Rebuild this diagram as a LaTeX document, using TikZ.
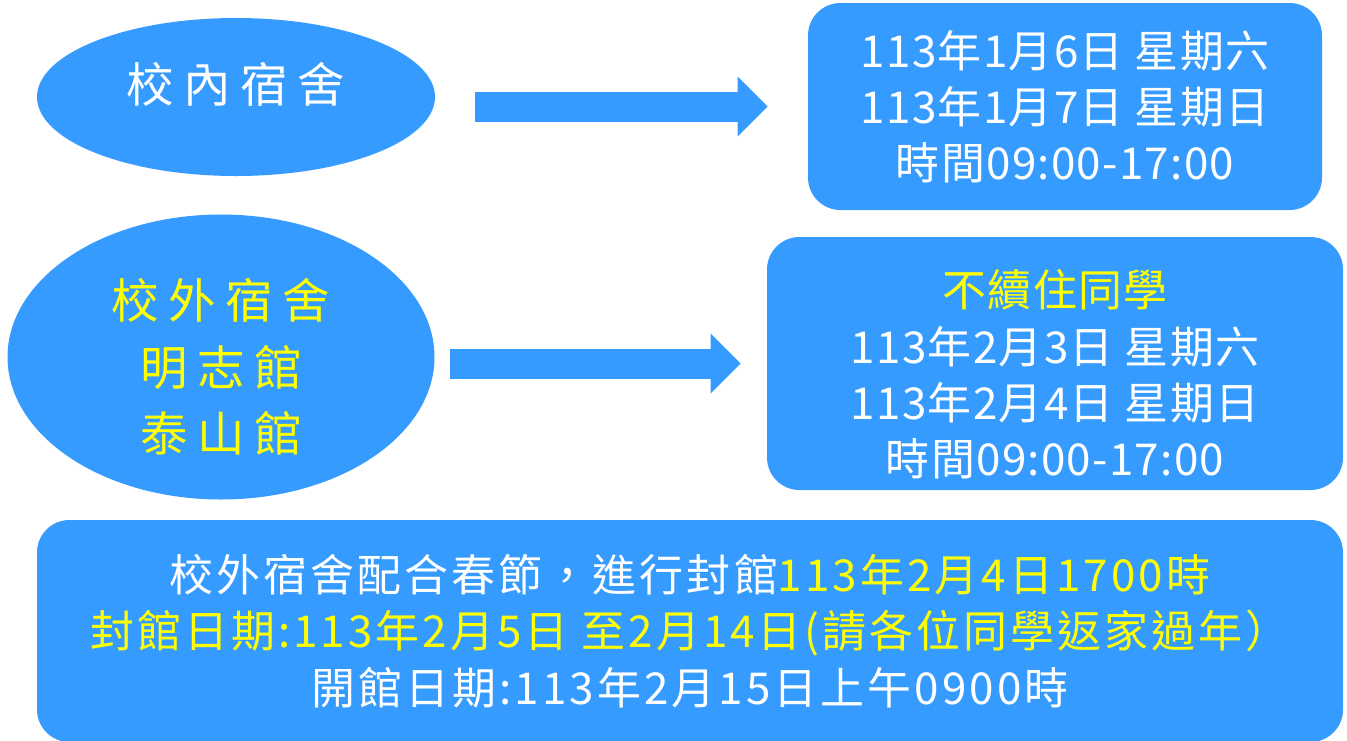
\documentclass[tikz,border=0pt]{standalone}
\usepackage{fontspec}
\setmainfont[LetterSpace=3]{Noto Sans CJK TC}
\newfontfamily\widecjk[LetterSpace=20]{Noto Sans CJK TC}
\newfontfamily\noticecjk[LetterSpace=7]{Noto Sans CJK TC}
\usetikzlibrary{arrows.meta,shapes.geometric}
\definecolor{skyblue}{RGB}{54,155,255}
\definecolor{markyellow}{RGB}{255,255,0}

\begin{document}
\begin{tikzpicture}[
        dorm/.style={ellipse, fill=skyblue, inner sep=0pt, align=center, font=\widecjk\fontsize{27pt}{38pt}\selectfont},
        infobox/.style={rectangle, rounded corners=0.65cm, fill=skyblue, text=white, inner sep=0pt, align=center, font=\fontsize{25pt}{32pt}\selectfont},
        bigarrow/.style={draw=skyblue, line width=0.6cm, -{Triangle[width=1.16cm, length=0.6cm]}}]

        \useasboundingbox (0, 0) rectangle (26.94, -14.8);

        \node[dorm, text=white, minimum width=7.96cm, minimum height=3.16cm, text depth=0.6cm] (inside) at (4.72, -1.94) {校內宿舍};
        \node[dorm, text=markyellow, minimum width=8.54cm, minimum height=5.7cm, text height=3.87cm] (outside) at (4.42, -7.14) {校外宿舍\\明志館\\泰山館};

        \node[infobox, minimum width=10.28cm, minimum height=4.14cm] (stay) at (21.3, -2.13)
            {113年1月6日 星期六\\113年1月7日 星期日\\時間09:00-17:00};
        \node[infobox, minimum width=11.52cm, minimum height=5.06cm, text height=4.55cm] (leave) at (21.1, -7.27)
            {{\color{markyellow}不續住同學}\\113年2月3日 星期六\\113年2月4日 星期日\\時間09:00-17:00};
        \node[infobox, font=\noticecjk\fontsize{25pt}{32pt}\selectfont, minimum width=26.12cm, minimum height=4.44cm] (closing) at (13.8, -12.62)
            {校外宿舍配合春節，進行封館{\color{markyellow}113年2月4日1700時}\\
             {\color{markyellow}封館日期:113年2月5日 至2月14日(請各位同學返家過年）}\\
             開館日期:113年2月15日上午0900時};

        \draw[bigarrow, shorten <=0.8cm, shorten >=0.8cm] (inside.east |- stay.west) -- (stay.west);
        \draw[bigarrow, shorten <=0.3cm, shorten >=0.52cm] (outside.east |- leave.west) -- (leave.west);
    \end{tikzpicture}
\end{document}
